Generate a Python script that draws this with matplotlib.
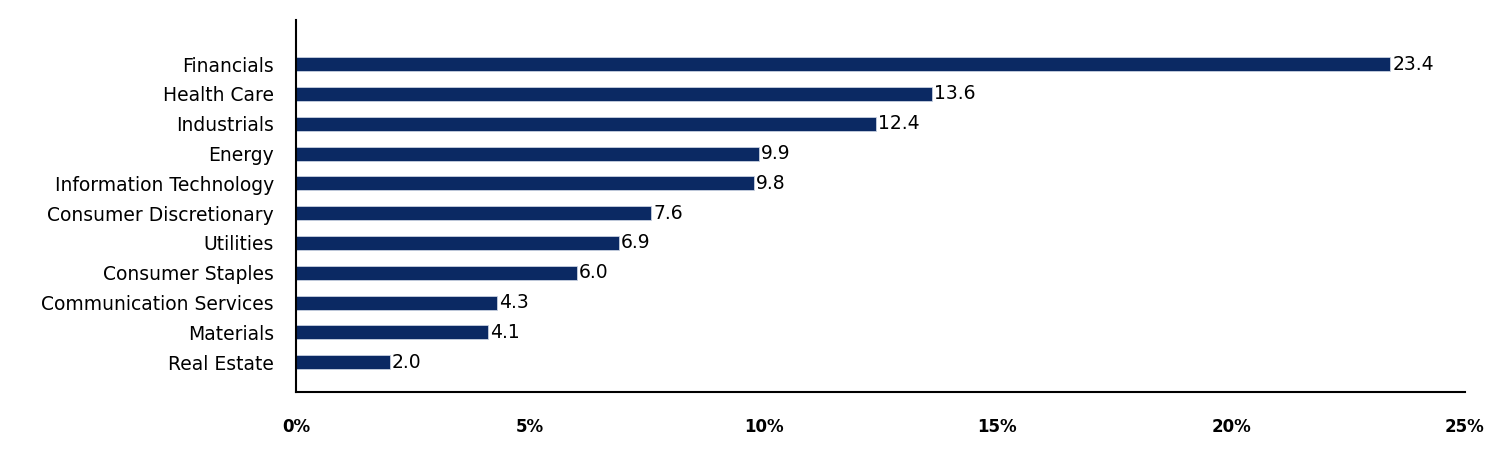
import matplotlib
matplotlib.use("Agg")
import matplotlib.pyplot as plt
from matplotlib.ticker import FuncFormatter

categories = ["Real Estate", "Materials", "Communication Services", "Consumer Staples",
              "Utilities", "Consumer Discretionary", "Information Technology", "Energy",
              "Industrials", "Health Care", "Financials"]
values = [2.0, 4.1, 4.3, 6.0, 6.9, 7.6, 9.8, 9.9, 12.4, 13.6, 23.4]
xticks = [0, 5, 10, 15, 20, 25]

bar_color = "#0b2963"

fig = plt.figure(figsize=(15.12, 4.68), dpi=100)
ax = fig.add_axes([296/1512, 1-392/468, (1465-296)/1512, (392-20)/468])

y = list(range(len(categories)))
bars = ax.barh(y, values, height=0.47, color=bar_color, edgecolor="#c8d0e0", linewidth=0.6)
for yi, v in zip(y, values):
    ax.annotate(f"{v:.1f}", (v, yi), xytext=(1.5, 0), textcoords="offset points",
                va="center", ha="left", fontsize=13.5, color="black")

ax.set_yticks(y)
ax.set_yticklabels(categories, fontsize=13.5)
ax.set_ylim(-1.0, 11.48)
ax.set_xlim(0, 25)
ax.set_xticks(xticks)
ax.xaxis.set_major_formatter(FuncFormatter(lambda v, p: f"{v:.0f}%"))
for lbl in ax.get_xticklabels():
    lbl.set_fontweight("bold")
    lbl.set_fontsize(12)
ax.tick_params(axis="x", length=0, pad=18.5)
ax.tick_params(axis="y", length=0, pad=16)
ax.spines["top"].set_visible(False)
ax.spines["right"].set_visible(False)
ax.spines["left"].set_linewidth(1.5)
ax.spines["bottom"].set_linewidth(1.5)

fig.savefig("out.png", dpi=100)
